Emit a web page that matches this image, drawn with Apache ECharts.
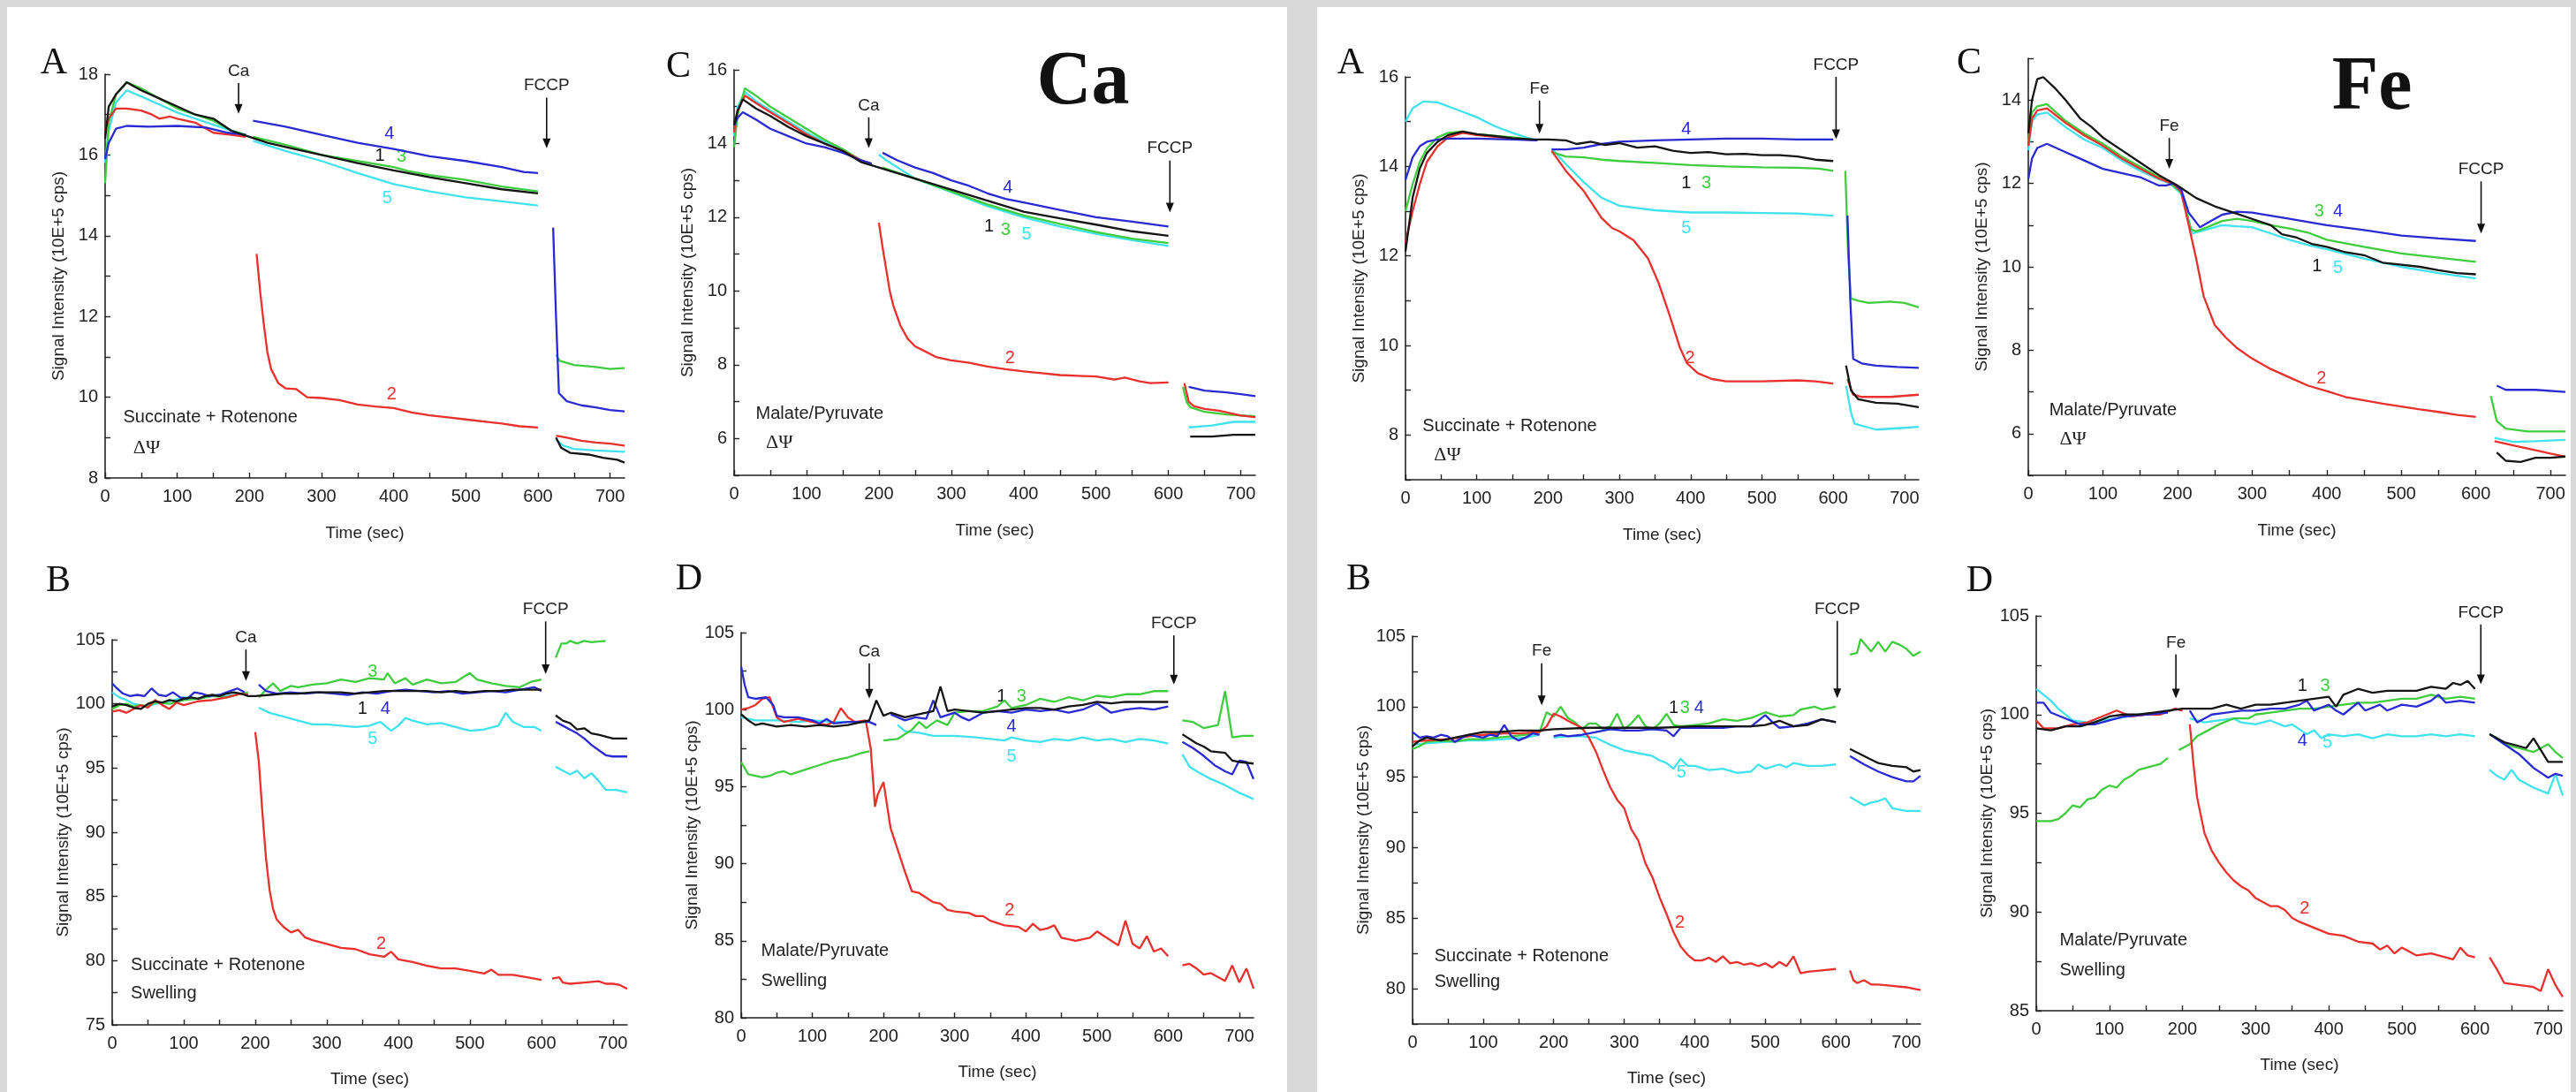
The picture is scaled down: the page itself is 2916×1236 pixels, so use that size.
<!DOCTYPE html>
<html><head><meta charset="utf-8">
<script src="https://cdn.jsdelivr.net/npm/echarts@6/dist/echarts.min.js"></script>
<style>
html,body{margin:0;padding:0;background:#d9d9d9;width:2916px;height:1236px;overflow:hidden}
.pn{position:absolute;background:#fff}
#c{position:absolute;left:0;top:0;width:2916px;height:1236px}
</style>
</head><body>
<div class="pn" style="left:8px;top:8px;width:1449px;height:1228px"></div>
<div class="pn" style="left:1491px;top:8px;width:1419px;height:1228px"></div>
<div id="c"></div>
<script>
// ---------- Ca, panel A (Succinate + Rotenone, ΔΨ) ----------
const caA1 = [[0,16.4],[5,17.2],[15,17.5],[30,17.8],[50,17.6],[75,17.4],[100,17.2],[125,17.0],[150,16.9],[175,16.6],[200,16.45],[225,16.3],[250,16.2],[275,16.1],[300,16.0],[350,15.8],[400,15.62],[450,15.45],[500,15.3],[550,15.15],[600,15.05],[612,null],[625,9.0],[632,8.75],[645,8.62],[670,8.58],[690,8.5],[710,8.45],[720,8.38]];
const caA2 = [[0,16.6],[5,16.9],[15,17.15],[30,17.15],[50,17.1],[65,17.0],[75,16.9],[90,16.95],[100,16.9],[125,16.8],[150,16.55],[175,16.5],[195,16.45],[200,null],[210,13.55],[215,12.6],[220,11.8],[225,11.1],[230,10.7],[240,10.35],[250,10.22],[265,10.2],[280,10.0],[300,9.98],[325,9.93],[350,9.82],[375,9.77],[400,9.73],[425,9.62],[450,9.55],[475,9.5],[500,9.45],[525,9.4],[550,9.35],[575,9.28],[600,9.25],[612,null],[625,9.05],[640,9.0],[660,8.92],[680,8.88],[700,8.85],[720,8.8]];
const caA3 = [[0,15.3],[5,16.8],[15,17.5],[30,17.8],[50,17.65],[75,17.4],[100,17.15],[125,17.0],[150,16.85],[175,16.6],[195,16.5],[200,null],[205,16.45],[250,16.25],[300,16.0],[350,15.85],[400,15.7],[420,15.6],[450,15.5],[500,15.38],[550,15.22],[600,15.1],[612,null],[625,11.05],[630,10.9],[650,10.8],[680,10.75],[700,10.7],[720,10.72]];
const caA4 = [[0,15.9],[5,16.3],[15,16.65],[30,16.72],[60,16.7],[100,16.72],[140,16.68],[170,16.55],[195,16.5],[200,null],[205,16.85],[250,16.7],[300,16.5],[350,16.3],[400,16.15],[450,15.97],[500,15.85],[550,15.7],[580,15.58],[600,15.55],[612,null],[621,14.2],[625,12.0],[629,10.1],[640,9.9],[660,9.8],[680,9.75],[700,9.68],[720,9.65]];
const caA5 = [[0,15.8],[5,16.6],[15,17.3],[30,17.6],[50,17.45],[75,17.25],[100,17.05],[125,16.9],[150,16.75],[175,16.6],[195,16.5],[200,null],[205,16.35],[250,16.1],[300,15.85],[350,15.55],[400,15.28],[450,15.1],[500,14.95],[550,14.85],[600,14.75],[612,null],[625,8.95],[635,8.8],[650,8.72],[680,8.68],[720,8.65]];
// ---------- Ca, panel C (Malate/Pyruvate, ΔΨ) ----------
const caC1 = [[0,14.5],[5,14.9],[12,15.2],[30,14.95],[50,14.75],[75,14.45],[100,14.2],[125,14.0],[150,13.8],[175,13.5],[200,13.35],[225,13.2],[250,13.05],[275,12.9],[300,12.75],[325,12.6],[350,12.45],[375,12.3],[400,12.15],[450,11.97],[500,11.8],[550,11.62],[600,11.5],[615,null],[630,6.05],[660,6.05],[690,6.1],[720,6.1]];
const caC2 = [[0,14.3],[5,14.9],[15,15.3],[30,15.1],[50,14.85],[75,14.55],[100,14.25],[125,14.0],[150,13.8],[175,13.55],[190,13.45],[195,null],[200,11.85],[205,11.2],[210,10.6],[215,10.0],[220,9.6],[230,9.05],[240,8.7],[250,8.5],[260,8.4],[280,8.2],[300,8.12],[325,8.05],[350,7.95],[375,7.88],[400,7.82],[425,7.77],[450,7.72],[475,7.7],[500,7.68],[525,7.6],[540,7.65],[560,7.55],[575,7.5],[600,7.52],[612,null],[622,7.5],[628,7.0],[635,6.88],[650,6.8],[670,6.75],[700,6.62],[720,6.58]];
const caC3 = [[0,13.9],[5,14.8],[15,15.5],[30,15.3],[50,15.0],[75,14.7],[100,14.4],[125,14.1],[150,13.85],[175,13.55],[190,13.45],[195,null],[205,13.35],[250,13.05],[300,12.7],[350,12.35],[400,12.05],[450,11.82],[500,11.6],[550,11.42],[600,11.3],[612,null],[620,7.4],[625,7.0],[630,6.85],[650,6.72],[680,6.65],[720,6.6]];
const caC4 = [[0,14.5],[5,14.7],[12,14.85],[30,14.65],[50,14.4],[75,14.2],[100,14.0],[125,13.9],[150,13.75],[175,13.55],[190,13.45],[195,null],[205,13.75],[225,13.55],[250,13.35],[275,13.2],[300,13.0],[325,12.85],[350,12.65],[375,12.5],[400,12.4],[450,12.2],[500,12.0],[550,11.88],[600,11.75],[612,null],[628,7.4],[650,7.3],[680,7.25],[700,7.2],[720,7.15]];
const caC5 = [[0,14.2],[5,15.0],[15,15.4],[30,15.15],[50,14.9],[75,14.6],[100,14.3],[125,14.05],[150,13.8],[175,13.55],[190,13.45],[195,null],[200,13.7],[210,13.55],[250,13.05],[300,12.68],[350,12.3],[400,12.0],[450,11.75],[500,11.55],[550,11.38],[600,11.22],[612,null],[628,6.3],[660,6.35],[690,6.45],[720,6.45]];
// ---------- Ca, panel B (Succinate + Rotenone, Swelling) ----------
const caB1 = [[0,99.8],[10,100.0],[20,99.9],[30,99.7],[40,99.6],[50,100.0],[60,100.2],[70,100.1],[80,100.3],[90,100.2],[100,100.4],[110,100.5],[120,100.4],[130,100.6],[140,100.7],[150,100.6],[160,100.8],[170,100.9],[180,100.8],[190,100.6],[200,100.6],[220,100.7],[240,100.8],[260,100.8],[280,100.9],[300,100.9],[320,100.9],[340,100.8],[360,100.9],[380,101.0],[400,101.0],[420,101.0],[440,101.0],[460,100.9],[480,101.0],[500,100.9],[520,101.0],[540,101.0],[560,101.1],[580,101.1],[600,101.1],[610,null],[620,99.1],[630,98.7],[640,98.5],[650,98.0],[660,98.1],[670,97.7],[680,97.6],[700,97.3],[720,97.3]];
const caB2 = [[0,99.4],[10,99.5],[20,99.3],[30,99.6],[40,99.9],[50,99.7],[60,100.3],[70,99.9],[80,99.6],[90,100.1],[100,99.9],[120,100.2],[140,100.3],[160,100.5],[180,100.8],[190,100.7],[195,null],[200,97.8],[205,95.5],[210,91.5],[215,88.0],[220,85.5],[225,84.0],[230,83.2],[240,82.6],[250,82.2],[260,82.4],[270,81.8],[280,81.6],[300,81.3],[320,81.0],[340,80.9],[360,80.5],[380,80.3],[390,80.7],[400,80.1],[420,79.9],[440,79.6],[460,79.4],[480,79.4],[500,79.2],[520,79.0],[530,79.3],[540,78.9],[560,78.9],[580,78.7],[600,78.5],[610,null],[615,78.6],[625,78.7],[630,78.3],[640,78.2],[660,78.3],[680,78.4],[690,78.2],[700,78.2],[710,78.1],[720,77.8]];
const caB3 = [[0,99.6],[10,99.9],[20,100.0],[30,99.8],[40,99.9],[50,99.8],[60,100.1],[80,100.0],[100,100.3],[120,100.4],[140,100.6],[160,100.5],[180,100.8],[190,100.9],[195,null],[205,100.5],[215,101.1],[225,101.6],[235,101.0],[250,101.4],[260,101.3],[280,101.5],[300,101.6],[320,101.9],[340,101.7],[360,102.0],[380,101.9],[385,102.4],[395,101.6],[410,102.0],[420,101.5],[440,101.9],[460,101.6],[480,101.7],[500,102.4],[510,101.9],[530,101.6],[550,101.4],[570,101.3],[585,101.7],[600,101.9],[610,null],[620,103.6],[628,104.7],[635,104.7],[640,104.9],[650,104.7],[660,104.9],[670,104.8],[690,104.9]];
const caB4 = [[0,101.6],[5,101.3],[15,100.8],[25,100.6],[35,100.7],[45,100.6],[55,101.2],[65,100.7],[75,100.6],[85,100.9],[95,100.5],[105,100.4],[115,100.9],[125,100.8],[135,100.6],[150,100.7],[165,101.0],[175,101.2],[185,100.9],[195,null],[205,101.5],[215,101.0],[230,100.8],[250,100.9],[270,100.8],[290,100.9],[310,100.8],[330,100.7],[350,100.9],[370,100.8],[390,101.0],[410,101.1],[430,101.0],[450,100.9],[470,101.0],[490,100.8],[510,100.9],[530,101.0],[550,100.9],[570,101.1],[590,101.3],[600,101.0],[610,null],[620,98.6],[630,98.3],[640,98.0],[650,97.7],[660,97.3],[670,96.8],[680,96.4],[690,96.0],[700,95.9],[720,95.9]];
const caB5 = [[0,100.9],[10,100.5],[20,100.3],[30,100.0],[40,99.9],[50,99.8],[60,100.0],[80,100.2],[100,100.5],[120,100.4],[140,100.6],[160,100.6],[180,100.8],[190,100.7],[195,null],[205,99.7],[220,99.3],[240,99.0],[260,98.7],[280,98.4],[300,98.4],[320,98.3],[340,98.2],[360,98.3],[375,98.6],[390,97.9],[400,98.3],[410,98.9],[420,98.7],[440,98.4],[460,98.5],[480,98.2],[500,97.9],[520,98.0],[540,98.3],[550,99.3],[560,98.6],[575,98.2],[590,98.2],[600,97.9],[610,null],[620,95.1],[630,94.8],[640,94.5],[650,94.8],[660,94.2],[670,94.6],[680,94.0],[690,93.3],[705,93.3],[720,93.1]];
// ---------- Ca, panel D (Malate/Pyruvate, Swelling) ----------
const caD1 = [[0,99.7],[10,99.3],[20,99.0],[30,99.1],[50,98.9],[70,99.0],[90,98.9],[110,99.0],[130,98.9],[150,99.0],[170,99.2],[180,99.3],[190,100.6],[200,99.6],[210,99.8],[230,99.5],[250,99.7],[270,99.9],[280,101.5],[290,99.9],[300,100.0],[320,99.9],[340,99.8],[360,99.9],[380,100.0],[400,100.1],[420,100.1],[440,100.0],[460,100.2],[480,100.3],[500,100.5],[520,100.4],[540,100.5],[560,100.5],[580,100.5],[600,100.5],[612,null],[620,98.4],[640,97.8],[650,97.6],[660,97.3],[680,97.2],[690,96.7],[700,96.6],[720,96.5]];
const caD2 = [[0,100.0],[10,100.1],[20,100.3],[30,100.7],[40,100.8],[50,99.5],[60,99.2],[80,99.4],[100,99.2],[120,99.0],[130,99.2],[140,100.1],[150,99.5],[160,99.2],[175,99.3],[182,97.5],[188,93.7],[192,94.5],[200,95.3],[210,92.3],[220,90.9],[230,89.5],[240,88.2],[250,88.1],[260,87.8],[270,87.5],[280,87.4],[290,87.0],[300,86.9],[320,86.8],[330,86.6],[340,86.6],[350,86.3],[370,86.0],[390,85.9],[400,85.6],[410,86.1],[420,85.7],[430,85.8],[440,86.0],[450,85.2],[470,85.0],[490,85.2],[500,85.6],[520,85.0],[530,84.7],[540,86.3],[550,84.8],[560,84.5],[570,85.3],[580,84.3],[590,84.5],[600,84.0],[612,null],[620,83.4],[630,83.5],[640,83.2],[650,82.8],[660,82.9],[680,82.4],[690,83.4],[700,82.3],[710,83.2],[720,81.9]];
const caD3 = [[0,96.6],[10,95.8],[20,95.7],[30,95.6],[40,95.7],[50,95.9],[60,96.0],[70,95.8],[90,96.1],[110,96.4],[130,96.7],[150,96.9],[170,97.2],[180,97.3],[185,null],[200,98.0],[220,98.1],[240,98.7],[250,99.2],[260,98.8],[275,99.3],[290,99.0],[300,99.8],[320,99.9],[340,99.9],[360,100.2],[370,100.6],[380,100.1],[400,100.3],[420,100.7],[440,100.5],[460,100.8],[480,100.6],[500,100.9],[520,100.8],[540,101.0],[560,101.0],[580,101.2],[600,101.2],[612,null],[620,99.3],[635,99.2],[650,98.8],[670,99.0],[680,101.2],[690,98.2],[705,98.3],[720,98.3]];
const caD4 = [[0,102.8],[5,101.6],[10,100.8],[20,100.7],[35,100.8],[45,100.3],[50,99.6],[60,99.5],[80,99.5],[100,99.3],[110,99.1],[120,99.4],[130,99.1],[150,99.2],[180,99.2],[190,99.0],[195,null],[210,99.7],[220,99.5],[230,99.3],[245,99.5],[260,99.4],[270,100.6],[280,99.5],[300,99.8],[310,99.5],[320,99.3],[340,99.8],[360,99.9],[380,99.8],[400,100.0],[420,99.9],[440,100.0],[460,99.8],[480,100.0],[500,100.4],[520,99.8],[540,100.0],[560,100.1],[580,100.0],[600,100.2],[612,null],[620,97.9],[635,97.5],[650,97.0],[665,96.4],[680,96.0],[690,95.8],[700,96.7],[710,96.6],[720,95.5]];
const caD5 = [[0,99.5],[20,99.3],[50,99.3],[80,99.2],[100,99.3],[130,99.2],[160,99.2],[180,99.2],[195,null],[220,99.0],[230,98.6],[250,98.5],[270,98.3],[300,98.3],[330,98.2],[350,98.1],[370,98.0],[380,98.2],[400,98.0],[420,97.9],[440,98.1],[460,98.0],[480,98.2],[500,98.0],[520,98.1],[540,97.9],[560,98.1],[580,98.0],[600,97.8],[612,null],[620,97.1],[630,96.3],[640,96.0],[660,95.5],[680,95.1],[700,94.6],[720,94.2]];
// ---------- Fe, panel A ----------
const feA1 = [[0,12.1],[10,13.3],[20,13.95],[30,14.3],[45,14.55],[60,14.7],[80,14.78],[100,14.72],[125,14.68],[150,14.63],[180,14.6],[200,14.6],[225,14.58],[240,14.5],[260,14.55],[280,14.48],[300,14.52],[325,14.42],[350,14.45],[375,14.35],[400,14.3],[425,14.32],[450,14.27],[475,14.28],[500,14.25],[525,14.25],[550,14.22],[575,14.15],[600,14.12],[612,null],[618,9.55],[625,9.0],[635,8.8],[660,8.72],[690,8.7],[720,8.62]];
const feA2 = [[0,12.3],[10,13.0],[20,13.6],[30,14.1],[45,14.45],[60,14.65],[80,14.75],[100,14.7],[150,14.62],[185,14.58],[195,null],[205,14.35],[225,13.9],[250,13.45],[275,12.85],[290,12.62],[300,12.55],[320,12.35],[340,11.95],[355,11.4],[370,10.7],[385,9.95],[395,9.6],[410,9.38],[430,9.25],[450,9.2],[500,9.2],[550,9.22],[575,9.2],[600,9.15],[612,null],[620,9.25],[628,8.9],[640,8.85],[680,8.85],[720,8.9]];
const feA3 = [[0,13.0],[10,13.6],[20,14.1],[30,14.4],[45,14.65],[60,14.75],[80,14.78],[100,14.72],[150,14.65],[185,14.58],[195,null],[205,14.32],[225,14.22],[250,14.2],[275,14.15],[300,14.12],[350,14.08],[400,14.03],[450,14.0],[500,13.98],[550,13.97],[580,13.95],[600,13.9],[612,null],[617,13.9],[621,12.0],[625,11.05],[635,11.0],[650,10.95],[680,10.98],[700,10.95],[720,10.85]];
const feA4 = [[0,13.7],[10,14.2],[20,14.45],[30,14.55],[45,14.6],[60,14.62],[100,14.62],[150,14.6],[185,14.58],[195,null],[205,14.38],[225,14.38],[250,14.42],[275,14.5],[300,14.55],[350,14.58],[400,14.6],[450,14.62],[500,14.62],[550,14.6],[600,14.6],[612,null],[620,12.9],[624,11.0],[628,9.7],[640,9.6],[660,9.55],[690,9.52],[720,9.5]];
const feA5 = [[0,15.0],[10,15.3],[25,15.45],[45,15.43],[75,15.25],[100,15.1],[125,14.9],[150,14.75],[175,14.62],[185,14.58],[195,null],[205,14.4],[225,14.05],[250,13.65],[275,13.3],[300,13.12],[350,13.02],[400,12.97],[450,12.97],[500,12.96],[550,12.95],[600,12.9],[612,null],[618,9.1],[625,8.5],[630,8.25],[660,8.12],[690,8.15],[720,8.18]];
// ---------- Fe, panel C ----------
const feC1 = [[0,13.2],[5,14.0],[12,14.5],[20,14.55],[35,14.3],[50,14.0],[70,13.55],[85,13.35],[100,13.1],[125,12.8],[150,12.5],[175,12.2],[190,12.05],[200,11.95],[225,11.65],[250,11.45],[275,11.3],[300,11.15],[325,11.0],[340,10.78],[360,10.7],[380,10.55],[400,10.48],[425,10.35],[450,10.28],[475,10.1],[500,10.05],[525,10.0],[550,9.92],[575,9.85],[600,9.82],[612,null],[628,5.55],[640,5.35],[660,5.32],[680,5.42],[700,5.42],[720,5.45]];
const feC2 = [[0,12.9],[5,13.55],[12,13.75],[25,13.8],[50,13.45],[75,13.15],[100,12.9],[125,12.6],[150,12.35],[175,12.12],[195,11.98],[205,11.8],[215,11.0],[225,10.2],[235,9.3],[250,8.6],[265,8.3],[280,8.05],[300,7.8],[325,7.55],[350,7.35],[375,7.15],[400,7.02],[425,6.88],[450,6.8],[475,6.72],[500,6.65],[525,6.58],[550,6.52],[575,6.45],[600,6.4],[612,null],[625,5.82],[650,5.72],[680,5.6],[700,5.52],[720,5.45]];
const feC3 = [[0,13.0],[5,13.7],[12,13.85],[25,13.9],[50,13.5],[75,13.2],[100,12.95],[125,12.65],[150,12.4],[175,12.15],[190,12.0],[205,11.8],[212,11.3],[218,10.9],[225,10.85],[240,10.95],[260,11.1],[280,11.15],[300,11.1],[325,11.0],[350,10.92],[375,10.82],[400,10.65],[450,10.48],[500,10.32],[550,10.22],[600,10.12],[612,null],[620,6.9],[628,6.3],[640,6.12],[670,6.05],[700,6.05],[720,6.05]];
const feC4 = [[0,12.1],[5,12.6],[12,12.85],[25,12.95],[50,12.75],[75,12.55],[100,12.35],[125,12.25],[150,12.15],[175,11.95],[185,11.95],[195,12.0],[205,11.85],[215,11.3],[230,10.95],[245,11.1],[260,11.25],[280,11.32],[300,11.3],[350,11.15],[400,11.0],[450,10.88],[500,10.75],[550,10.68],[600,10.62],[612,null],[628,7.15],[640,7.05],[680,7.05],[720,7.0]];
const feC5 = [[0,12.8],[5,13.5],[12,13.65],[25,13.7],[50,13.35],[75,13.05],[100,12.85],[125,12.55],[150,12.3],[175,12.1],[190,12.0],[205,11.75],[212,11.3],[220,10.8],[230,10.85],[260,11.0],[280,10.97],[300,10.95],[325,10.8],[350,10.65],[375,10.52],[400,10.42],[450,10.2],[500,10.0],[550,9.85],[600,9.72],[612,null],[625,5.9],[650,5.8],[680,5.82],[720,5.85]];
// ---------- Fe, panel B ----------
const feB1 = [[0,97.2],[10,97.6],[20,97.8],[30,97.7],[40,97.6],[60,97.8],[80,98.0],[100,98.2],[120,98.2],[150,98.3],[180,98.3],[200,98.4],[250,98.5],[300,98.5],[350,98.5],[400,98.6],[450,98.6],[480,98.6],[500,98.7],[520,99.0],[540,98.6],[560,98.7],[580,99.1],[600,98.9],[610,null],[620,97.0],[640,96.5],[660,96.0],[680,95.8],[700,95.7],[710,95.4],[720,95.5]];
const feB2 = [[0,97.5],[20,97.6],[50,97.7],[80,97.9],[100,98.0],[130,98.1],[150,98.1],[180,98.2],[190,98.6],[200,99.5],[210,99.3],[220,99.0],[240,98.5],[250,97.8],[260,96.8],[270,95.5],[280,94.3],[290,93.4],[300,92.8],[310,91.3],[320,90.5],[330,88.9],[340,87.9],[350,86.5],[360,85.3],[370,84.0],[380,83.0],[390,82.4],[400,82.0],[410,82.0],[420,82.2],[430,81.9],[440,82.3],[450,81.8],[460,81.9],[470,81.7],[480,81.8],[490,81.6],[500,81.8],[510,81.5],[520,81.9],[530,81.6],[540,82.3],[550,81.1],[560,81.2],[580,81.3],[600,81.4],[610,null],[620,81.3],[625,80.6],[630,80.4],[640,80.6],[650,80.3],[660,80.3],[680,80.2],[700,80.1],[720,79.9]];
const feB3 = [[0,97.0],[10,97.2],[20,97.5],[40,97.6],[60,97.5],[80,97.7],[100,97.7],[120,97.8],[140,97.9],[160,98.0],[180,98.2],[190,99.6],[200,99.3],[210,100.0],[220,99.2],[230,98.9],[240,98.4],[250,98.8],[260,98.8],[270,98.4],[280,98.6],[290,99.5],[300,98.4],[310,98.8],[320,99.4],[330,98.6],[340,98.4],[350,98.8],[360,99.5],[370,98.7],[380,98.6],[400,98.7],[420,98.8],[440,99.1],[460,99.0],[480,99.2],[500,99.6],[520,99.3],[540,99.4],[550,99.8],[570,100.0],[580,99.8],[600,100.0],[610,null],[620,103.7],[630,103.8],[635,104.8],[645,104.2],[650,103.9],[660,104.6],[670,103.9],[680,104.6],[690,104.4],[700,104.1],[710,103.6],[720,103.9]];
const feB4 = [[0,98.2],[10,97.8],[20,97.9],[30,97.8],[40,98.0],[50,97.9],[60,97.5],[70,97.8],[80,98.0],[90,97.9],[100,97.8],[110,98.0],[120,97.9],[130,98.7],[140,97.9],[150,97.6],[160,97.8],[170,98.1],[180,98.0],[190,null],[200,97.9],[210,98.0],[220,97.9],[240,98.0],[260,98.2],[280,98.4],[300,98.3],[320,98.3],[340,98.4],[360,98.3],[370,97.9],[380,98.5],[400,98.5],[420,98.5],[440,98.5],[460,98.6],[480,98.6],[500,99.4],[510,98.9],[520,98.5],[540,98.6],[560,98.8],[580,99.1],[600,98.9],[610,null],[620,96.5],[640,95.9],[660,95.4],[680,95.0],[700,94.7],[710,94.7],[720,95.1]];
const feB5 = [[0,97.3],[20,97.4],[50,97.5],[80,97.6],[100,97.6],[130,97.7],[160,97.8],[180,98.0],[190,null],[200,97.8],[220,97.9],[240,97.9],[260,97.8],[280,97.3],[300,96.9],[320,96.7],[340,96.5],[350,96.2],[360,96.0],[370,95.6],[380,96.3],[390,95.8],[400,95.8],[420,95.5],[440,95.6],[460,95.3],[480,95.4],[490,95.9],[500,95.6],[520,95.9],[530,95.7],[540,96.0],[560,95.8],[580,95.8],[600,95.9],[610,null],[620,93.6],[630,93.3],[640,93.0],[650,93.2],[660,93.3],[670,93.5],[680,92.8],[700,92.6],[720,92.6]];
// ---------- Fe, panel D ----------
const feD1 = [[0,99.3],[20,99.2],[40,99.4],[60,99.4],[80,99.6],[100,99.9],[120,100.0],[140,100.0],[160,100.1],[180,100.2],[200,100.3],[220,100.3],[240,100.3],[260,100.5],[280,100.3],[300,100.5],[320,100.5],[340,100.6],[360,100.7],[380,100.8],[400,100.9],[410,100.4],[420,101.0],[440,101.3],[460,101.1],[480,101.2],[500,101.2],[520,101.2],[540,101.4],[560,101.3],[570,101.6],[580,101.5],[590,101.7],[600,101.3],[610,null],[620,99.0],[640,98.6],[660,98.4],[670,98.3],[680,98.8],[700,97.6],[720,97.6]];
const feD2 = [[0,99.7],[10,99.3],[30,99.3],[50,99.5],[70,99.6],[90,99.9],[110,100.2],[130,99.9],[150,100.0],[170,100.0],[190,100.3],[200,100.2],[205,null],[210,99.5],[215,97.5],[220,95.8],[230,94.0],[240,93.1],[250,92.5],[260,92.0],[270,91.6],[280,91.3],[290,91.1],[300,90.7],[310,90.5],[320,90.3],[330,90.3],[340,90.1],[350,89.7],[360,89.5],[380,89.2],[400,88.9],[420,88.8],[440,88.5],[460,88.4],[470,88.1],[480,88.3],[490,87.9],[500,88.2],[520,87.8],[540,87.9],[560,87.7],[570,87.6],[580,88.2],[590,87.8],[600,87.7],[610,null],[620,87.7],[630,87.1],[640,86.4],[660,86.3],[680,86.2],[690,86.0],[700,87.1],[710,86.3],[720,85.7]];
const feD3 = [[0,94.6],[20,94.6],[30,94.7],[40,95.0],[50,95.4],[60,95.3],[70,95.7],[80,95.8],[90,96.2],[100,96.4],[110,96.3],[120,96.7],[130,96.9],[140,97.2],[150,97.3],[160,97.4],[170,97.5],[180,97.8],[185,null],[195,98.2],[210,98.5],[220,98.9],[230,99.1],[250,99.5],[270,99.8],[290,99.8],[300,100.0],[320,100.1],[340,100.2],[360,100.3],[380,100.3],[400,100.4],[420,100.5],[440,100.6],[460,100.6],[480,100.7],[500,100.8],[520,100.8],[540,101.0],[560,100.8],[580,100.9],[600,100.8],[610,null],[620,99.0],[630,98.8],[640,98.5],[660,98.3],[680,98.1],[700,98.5],[710,98.1],[720,97.8]];
const feD4 = [[0,100.6],[10,100.6],[20,100.1],[40,99.8],[60,99.5],[80,99.5],[100,99.7],[120,99.9],[150,100.0],[180,100.1],[190,null],[210,100.2],[220,99.6],[240,100.0],[260,100.1],[280,100.2],[300,100.2],[320,100.3],[340,100.3],[360,100.5],[370,100.7],[380,100.2],[400,100.5],[410,100.2],[420,100.0],[440,100.6],[450,100.2],[470,100.5],[480,100.2],[500,100.5],[520,100.4],[540,100.7],[550,101.0],[560,100.6],[580,100.7],[600,100.6],[610,null],[620,99.0],[640,98.5],[660,98.0],[680,97.3],[700,96.8],[710,97.0],[720,96.9]];
const feD5 = [[0,101.3],[10,101.0],[20,100.7],[30,100.3],[50,99.7],[70,99.6],[90,99.7],[110,99.8],[140,100.0],[170,100.1],[185,100.2],[190,null],[210,99.8],[230,99.6],[250,99.7],[270,99.8],[280,99.6],[300,99.5],[320,99.7],[340,99.4],[350,99.5],[370,99.0],[380,99.2],[390,98.8],[400,99.0],[420,98.9],[440,99.0],[460,98.8],[480,99.0],[500,98.9],[520,98.9],[540,99.0],[560,98.9],[580,99.0],[600,98.9],[610,null],[620,97.2],[630,96.9],[640,96.7],[650,97.2],[660,96.7],[680,96.3],[700,96.0],[710,97.0],[720,95.9]];

// ---------- tick label steps / axis ranges ----------
const xTicks = [0,100,200,300,400,500,600,700];
// [min, max, tick step, label step]
const yCaA = [8,18,1,2], yCaC = [5,16,1,2], yFeA = [7,16,1,2], yFeC = [5,15,1,2];
const yCaB = [75,105,2.5,5], yCaD = [80,105,2.5,5], yFeB = [77.5,105,2.5,5], yFeD = [85,105,2.5,5];

// ---------- annotations (data coordinates) ----------
const arrCaA = [[185,17.78,17.02,'Ca'],[612,17.42,16.17,'FCCP']];
const arrCaC = [[186,14.71,13.88,'Ca'],[602,13.54,12.13,'FCCP']];
const arrFeA = [[188,15.47,14.73,'Fe'],[604,16.0,14.61,'FCCP']];
const arrFeC = [[189,13.09,12.35,'Fe'],[607,12.05,10.8,'FCCP']];
const arrCaB = [[187,104.23,101.78,'Ca'],[606,106.42,102.32,'FCCP']];
const arrCaD = [[180,103.0,100.72,'Ca'],[608,104.82,101.63,'FCCP']];
const arrFeB = [[183,103.08,100.1,'Fe'],[602,106.07,100.6,'FCCP']];
const arrFeD = [[191,103.04,100.82,'Fe'],[608,104.56,101.53,'FCCP']];
const numCaA = [['4',394,16.53],['1',381,15.98],['3',411,15.95],['5',391,14.93],['2',397,10.07]];
const numCaC = [['4',378,12.81],['1',352,11.74],['3',375,11.64],['5',404,11.54],['2',381,8.18]];
const numFeA = [['4',394,14.82],['1',394,13.63],['3',422,13.63],['5',394,12.61],['2',399,9.71]];
const numFeC = [['3',390,11.32],['4',415,11.32],['1',387,10.02],['5',415,9.97],['2',393,7.33]];
const numCaB = [['3',364,102.46],['1',350,99.59],['4',382,99.59],['5',364,97.27],['2',376,81.28]];
const numCaD = [['1',366,100.83],['3',394,100.83],['4',380,98.9],['5',380,96.96],['2',377,86.94]];
const numFeB = [['1',370,99.9],['3',386,99.9],['4',406,99.9],['5',381,95.32],['2',379,84.68]];
const numFeD = [['1',364,101.44],['3',395,101.44],['4',364,98.69],['5',398,98.6],['2',367,90.16]];
const noteCaA = [['Succinate + Rotenone',25,9.5,0],['ΔΨ',39,8.74,1]];
const noteCaC = [['Malate/Pyruvate',30,6.66,0],['ΔΨ',44,5.88,1]];
const noteFeA = [['Succinate + Rotenone',24,8.2,0],['ΔΨ',40,7.55,1]];
const noteFeC = [['Malate/Pyruvate',28,6.55,0],['ΔΨ',42,5.86,1]];
const noteCaB = [['Succinate + Rotenone',26,79.64,0],['Swelling',26,77.46,0]];
const noteCaD = [['Malate/Pyruvate',28,84.32,0],['Swelling',28,82.38,0]];
const noteFeB = [['Succinate + Rotenone',31,82.31,0],['Swelling',31,80.45,0]];
const noteFeD = [['Malate/Pyruvate',32,88.56,0],['Swelling',32,87.04,0]];

// ---------- layout ----------
const COLORS = {'1':'#151515','2':'#e8302c','3':'#3fcc3f','4':'#2a2ad2','5':'#40e2ec'};
const SANS = '"Liberation Sans", Arial, sans-serif';
const SERIF = '"Liberation Serif", "Times New Roman", serif';
const panels = [
  {grid:{left:119,right:2209,top:84,bottom:695}, y:yCaA, s:{1:caA1,2:caA2,3:caA3,4:caA4,5:caA5}, arr:arrCaA, num:numCaA, note:noteCaA},
  {grid:{left:831,right:1495,top:79,bottom:698}, y:yCaC, s:{1:caC1,2:caC2,3:caC3,4:caC4,5:caC5}, arr:arrCaC, num:numCaC, note:noteCaC},
  {grid:{left:1591,right:744,top:87,bottom:693}, y:yFeA, s:{1:feA1,2:feA2,3:feA3,4:feA4,5:feA5}, arr:arrFeA, num:numFeA, note:noteFeA},
  {grid:{left:2296,right:12,top:66,bottom:698}, y:yFeC, s:{1:feC1,2:feC2,3:feC3,4:feC4,5:feC5}, arr:arrFeC, num:numFeC, note:noteFeC},
  {grid:{left:127,right:2206,top:724,bottom:76}, y:yCaB, s:{1:caB1,2:caB2,3:caB3,4:caB4,5:caB5}, arr:arrCaB, num:numCaB, note:noteCaB},
  {grid:{left:839,right:1497,top:716,bottom:84}, y:yCaD, s:{1:caD1,2:caD2,3:caD3,4:caD4,5:caD5}, arr:arrCaD, num:numCaD, note:noteCaD},
  {grid:{left:1599,right:742,top:720,bottom:77}, y:yFeB, s:{1:feB1,2:feB2,3:feB3,4:feB4,5:feB5}, arr:arrFeB, num:numFeB, note:noteFeB},
  {grid:{left:2305,right:15,top:697,bottom:92}, y:yFeD, s:{1:feD1,2:feD2,3:feD3,4:feD4,5:feD5}, arr:arrFeD, num:numFeD, note:noteFeD}
];
const letters = [['A',61,72],['C',768,76],['A',1529,72],['C',2229,72],['B',66,658],['D',780,656],['B',1538,656],['D',2241,658]];
const bigTitles = [['Ca',1226,95],['Fe',2685,101]];

const chart = echarts.init(document.getElementById('c'), null, {renderer:'canvas'});
const axisCommon = {
  axisLine:{show:true,onZero:false,lineStyle:{color:'#222',width:1.6}},
  axisTick:{show:true,inside:true,length:6,lineStyle:{color:'#222',width:1.4}},
  splitLine:{show:false}
};
const option = {animation:false, grid:[], xAxis:[], yAxis:[], series:[]};
panels.forEach((p,i)=>{
  option.grid.push(Object.assign({containLabel:false}, p.grid));
  option.xAxis.push(Object.assign({}, axisCommon, {
    type:'value', gridIndex:i, min:0, max:720, interval:50,
    name:'Time (sec)', nameLocation:'middle', nameGap: i<4 ? 53 : 52,
    nameTextStyle:{fontFamily:SANS,fontSize:19,color:'#222'},
    axisLabel:{fontFamily:SANS,fontSize:20,color:'#222',margin:11,showMaxLabel:false,
      formatter:v=> xTicks.indexOf(v)>=0 ? String(v) : ''}
  }));
  const [mn,mx,st,ls] = p.y;
  option.yAxis.push(Object.assign({}, axisCommon, {
    type:'value', gridIndex:i, min:mn, max:mx, interval:st,
    name:'Signal Intensity (10E+5 cps)', nameLocation:'middle', nameGap:43,
    nameTextStyle:{fontFamily:SANS,fontSize:19,color:'#222'},
    axisLabel:{fontFamily:SANS,fontSize:20,color:'#222',margin:8,
      formatter:v=> (Math.abs(v/ls - Math.round(v/ls))<1e-6) ? String(v) : ''}
  }));
  ['5','3','2','4','1'].forEach(k=>{
    option.series.push({type:'line', xAxisIndex:i, yAxisIndex:i, data:p.s[k], showSymbol:false,
      connectNulls:false, lineStyle:{color:COLORS[k], width:2.3}, itemStyle:{color:COLORS[k]}, z:3});
  });
});
chart.setOption(option);

const g = [];
letters.forEach(([t,x,y])=>g.push({type:'text',x:x,y:y,style:{text:t,fontFamily:SERIF,fontSize:42,fill:'#111',align:'center',verticalAlign:'middle'}}));
bigTitles.forEach(([t,x,y])=>g.push({type:'text',x:x,y:y,style:{text:t,fontFamily:SERIF,fontSize:86,fontWeight:'bold',fill:'#111',align:'center',verticalAlign:'middle'}}));
panels.forEach((p,i)=>{
  const px = (x,y)=>chart.convertToPixel({gridIndex:i},[x,y]);
  p.arr.forEach(([x,y1,y2,t])=>{
    const a = px(x,y1), b = px(x,y2);
    g.push({type:'line',shape:{x1:a[0],y1:a[1],x2:b[0],y2:b[1]-6},style:{stroke:'#111',lineWidth:1.6}});
    g.push({type:'polygon',shape:{points:[[b[0]-4.5,b[1]-11],[b[0]+4.5,b[1]-11],[b[0],b[1]]]},style:{fill:'#111'}});
    g.push({type:'text',x:a[0],y:a[1]-4,style:{text:t,fontFamily:SANS,fontSize:19,fill:'#222',align:'center',verticalAlign:'bottom'}});
  });
  p.num.forEach(([t,x,y])=>{
    const a = px(x,y);
    g.push({type:'text',x:a[0],y:a[1],style:{text:t,fontFamily:SANS,fontSize:20,fill:COLORS[t],align:'center',verticalAlign:'middle'}});
  });
  p.note.forEach(([t,x,y,serif])=>{
    const a = px(x,y);
    g.push({type:'text',x:a[0],y:a[1],style:{text:t,fontFamily:serif?SERIF:SANS,fontSize:serif?22:20,fill:'#222',align:'left',verticalAlign:'middle'}});
  });
});
chart.setOption({graphic:g});
</script>
</body></html>
